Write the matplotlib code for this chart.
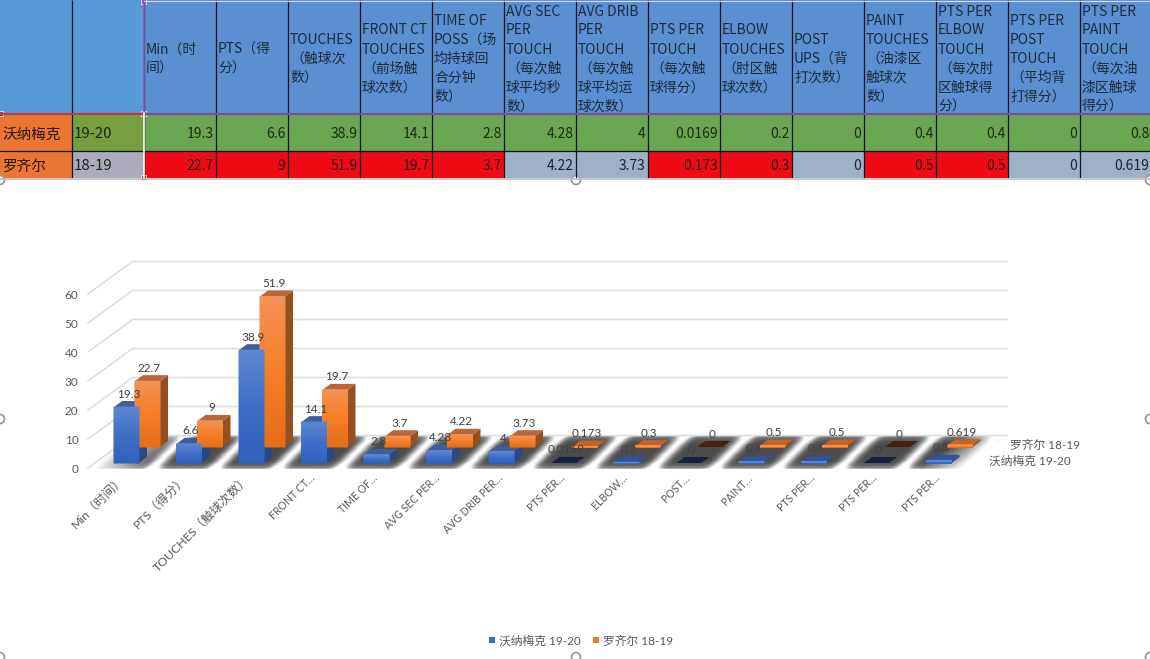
import matplotlib
matplotlib.use("Agg")
import matplotlib.pyplot as plt
import numpy as np
from matplotlib.patches import Polygon, Rectangle, Circle
from matplotlib.colors import LinearSegmentedColormap

plt.rcParams["font.family"] = ["Noto Sans CJK SC", "DejaVu Sans"]
CHART_FONT = ["Lato", "Noto Sans CJK SC", "DejaVu Sans"]

# 表格数据
headers = [
    "Min（时\n间）", "PTS（得\n分）", "TOUCHES\n（触球次\n数）",
    "FRONT CT\nTOUCHES\n（前场触\n球次数）", "TIME OF\nPOSS（场\n均持球回\n合分钟\n数）",
    "AVG SEC\nPER\nTOUCH\n（每次触\n球平均秒\n数）", "AVG DRIB\nPER\nTOUCH\n（每次触\n球平均运\n球次数）",
    "PTS PER\nTOUCH\n（每次触\n球得分）", "ELBOW\nTOUCHES\n（肘区触\n球次数）",
    "POST\nUPS（背\n打次数）", "PAINT\nTOUCHES\n（油漆区\n触球次\n数）",
    "PTS PER\nELBOW\nTOUCH\n（每次肘\n区触球得\n分）", "PTS PER\nPOST\nTOUCH\n（平均背\n打得分）",
    "PTS PER\nPAINT\nTOUCH\n（每次油\n漆区触球\n得分）",
]
players = ["沃纳梅克", "罗齐尔"]
seasons = ["19-20", "18-19"]
wanamaker = [19.3, 6.6, 38.9, 14.1, 2.8, 4.28, 4, 0.0169, 0.2, 0, 0.4, 0.4, 0, 0.8]
rozier = [22.7, 9, 51.9, 19.7, 3.7, 4.22, 3.73, 0.173, 0.3, 0, 0.5, 0.5, 0, 0.619]

# 图表坐标轴标签
categories = [
    "Min（时间）", "PTS（得分）", "TOUCHES（触球次数）", "FRONT CT…", "TIME OF…",
    "AVG SEC PER…", "AVG DRIB PER…", "PTS PER…", "ELBOW…", "POST…",
    "PAINT…", "PTS PER…", "PTS PER…", "PTS PER…",
]
y_ticks = [0, 10, 20, 30, 40, 50, 60]
series_names = ["沃纳梅克 19-20", "罗齐尔 18-19"]

fig = plt.figure(figsize=(11.5, 6.59), dpi=100, facecolor="white")

# 底层：像素坐标，画表格和背景
tab = fig.add_axes([0, 0, 1, 1])
tab.set_xlim(0, 1150)
tab.set_ylim(659, 0)
tab.axis("off")

col_x = [0, 71.5] + [143.5 + 72 * i for i in range(15)]
row_y = [0, 113, 151, 177.5]
BLUE_HEAD = "#5B8FD1"
GREEN = "#6AA551"
RED = "#EE0B15"
GREY = "#9FB0C9"

tab.add_patch(Rectangle((0, 0), 143.5, 113, color="#569AD8", lw=0))
tab.add_patch(Rectangle((143.5, 0), 1010, 113, color=BLUE_HEAD, lw=0))
tab.add_patch(Rectangle((0, 113), 71.5, 64.5, color="#EA7633", lw=0))
tab.add_patch(Rectangle((71.5, 113), 72, 38, color="#76A03F", lw=0))
tab.add_patch(Rectangle((71.5, 151), 72, 26.5, color="#ABABBB", lw=0))

for i, h in enumerate(headers):
    left = col_x[i + 2]
    lines = h.split("\n")
    for j, line in enumerate(lines):
        ty = 59 + (j - (len(lines) - 1) / 2) * 19
        tab.text(left + 2.5, ty, line, fontsize=10, color="#1d2c3c", ha="left", va="center", clip_on=True)
    a, b = wanamaker[i], rozier[i]
    tab.add_patch(Rectangle((left, 113), 72, 38, color=GREEN, lw=0))
    # 罗齐尔更高的项标红，其余灰蓝
    tab.add_patch(Rectangle((left, 151), 72, 26.5, color=RED if b > a else GREY, lw=0))
    tab.text(left + 70, 134.5, f"{a:g}", fontsize=10, color="#1c2a18", ha="right", va="center")
    tab.text(left + 70, 166.5, f"{b:g}", fontsize=10, color="#2a1518" if b > a else "#1c2430", ha="right", va="center")

for r, (name, season) in enumerate(zip(players, seasons)):
    ty = [134.5, 166.5][r]
    tab.text(2.5, ty, name, fontsize=10.5, color="#2a1508", ha="left", va="center")
    tab.text(74, ty, season, fontsize=10.8, color="#1c2418", ha="left", va="center")

for x in col_x[1:-1]:
    tab.plot([x, x], [0, 177.5], color="#0c1420", lw=0.9, solid_capstyle="butt")
for y in row_y[2:3]:
    tab.plot([0, 1150], [y, y], color="#0c1420", lw=0.9)

# 选区边框
tab.plot([143.5, 1150], [113.5, 113.5], color="#7A4FA8", lw=1.6)
tab.plot([143.5, 143.5], [0, 113], color="#8A5FB8", lw=1.2)
tab.plot([143.5, 1150], [1, 1], color="#D8D8E8", lw=0.8)
tab.plot([0, 143.5], [113.5, 113.5], color="#C23A3A", lw=1.6)
tab.plot([143.5, 143.5], [113, 177.5], color="white", lw=1.2)
tab.plot([0, 1150], [178.5, 178.5], color="#BDBDBD", lw=1.2)
for hx, hy in [(0, 113), (143.5, 113), (143.5, 1), (143.5, 177), (0, 178)]:
    tab.add_patch(Rectangle((hx - 2.5, hy - 2.5), 5, 5, fc="#C23A3A" if hx < 144 and hy > 100 else "#8A5FB8", ec="white", lw=0.5))
for hx, hy in [(0, 180), (576, 180), (1150, 180), (0, 419), (1150, 419), (576, 657), (0, 657), (1150, 657)]:
    tab.add_patch(Circle((hx, hy), 4.5, fc="white", ec="#9A9A9A", lw=1.3))

# 三维墙面网格线（像素位置由刻度值算）
PX_PER_UNIT = 2.9
WALL_FRONT_X, WALL_BACK_X, WALL_RIGHT_X = 88, 132.5, 1007
WALL_FRONT_ZERO, WALL_BACK_ZERO = 468, 435.5
for v in y_ticks:
    yf = WALL_FRONT_ZERO - PX_PER_UNIT * v
    yb = WALL_BACK_ZERO - PX_PER_UNIT * v
    tab.plot([WALL_FRONT_X, WALL_BACK_X, WALL_RIGHT_X], [yf, yb, yb], color="#DEDEDE", lw=1.2)
    tab.text(78.5, yf + 1.5, f"{v}", fontsize=8.5, color="#595959", ha="right", va="center", family=CHART_FONT)

# 地板：暗色底加斜向亮纹，网格按透视斜切
uu = np.linspace(0, 877, 900)
tt = np.linspace(0, 1, 30)
gu, gt = np.meshgrid(uu, tt)
floor_x = 88 + gu + 44.5 * gt
floor_y = 468 - 32.5 * gt
d = ((floor_x - 33 * gt - 153 + 31.25) % 62.5 - 31.25) / 62.5
streak = np.exp(-(d / 0.12) ** 2)
edge = np.abs(2 * gt - 1) ** 5
shade = np.clip(0.3 + 0.7 * streak + 0.3 * edge, 0, 1)
fade = np.clip(gu / 60, 0, 1) * np.clip((877 - gu) / 45, 0, 1)
shade = 1 - (1 - shade) * fade
tab.pcolormesh(floor_x, floor_y, shade, cmap="gray", vmin=0, vmax=1, shading="gouraud", zorder=1.5)
tab.set_xlim(0, 1150)
tab.set_ylim(659, 0)

# 上层：柱子用数据坐标，x 为类别序号，y 为数值
ax = fig.add_axes([0, 0, 1, 1])
ax.patch.set_alpha(0)
ax.axis("off")
X0, PX_PER_CAT, Y0 = 126.5, 62.5, 463
ax.set_xlim(-X0 / PX_PER_CAT, (1150 - X0) / PX_PER_CAT)
ax.set_ylim((Y0 - 659) / PX_PER_UNIT, Y0 / PX_PER_UNIT)

BAR_W = 25 / PX_PER_CAT
DEPTH_X, DEPTH_Y = 8 / PX_PER_CAT, 6 / PX_PER_UNIT
SERIES_DX, SERIES_DY = 21 / PX_PER_CAT, 16 / PX_PER_UNIT

blue_front = LinearSegmentedColormap.from_list("b", ["#2F62BE", "#3F6EC6", "#5F86D2"])
orange_front = LinearSegmentedColormap.from_list("o", ["#E56D18", "#F57E26", "#F39259"])


def draw_bar(i, value, dx, dy, cmap, top_c, side_c, thin_c, dark_c):
    x0 = i - BAR_W / 2 + dx
    x1 = x0 + BAR_W
    y0 = dy
    y1 = dy + value
    if value < 0.1:
        top = dark_c
    elif value < 1:
        top = thin_c
    else:
        top = top_c
    ax.add_patch(Polygon([(x1, y0), (x1 + DEPTH_X, y0 + DEPTH_Y), (x1 + DEPTH_X, y1 + DEPTH_Y), (x1, y1)], fc=side_c, ec="none", zorder=3))
    ax.add_patch(Polygon([(x0, y1), (x1, y1), (x1 + DEPTH_X, y1 + DEPTH_Y), (x0 + DEPTH_X, y1 + DEPTH_Y)], fc=top, ec="none", zorder=3))
    if value >= 0.1:
        ax.bar(x0, value, BAR_W, bottom=y0, align="edge", color=cmap(0.5), lw=0, zorder=3.1)
        grad = np.linspace(0, 1, 16).reshape(-1, 1).repeat(2, axis=1)
        gy = np.linspace(y0, y1, 16).reshape(-1, 1).repeat(2, axis=1)
        gx = np.tile([x0, x1], (16, 1))
        ax.pcolormesh(gx, gy, grad, cmap=cmap, vmin=0, vmax=1, shading="gouraud", zorder=3.2)
    ax.text(i + dx + 0.03, y1 + 13 / PX_PER_UNIT, f"{value:g}", fontsize=8.5, color="#404040", ha="center", va="center", zorder=5, family=CHART_FONT)


for i in range(len(categories)):
    draw_bar(i, rozier[i], SERIES_DX, SERIES_DY, orange_front, "#B8673A", "#94501F", "#C5631F", "#44230C")
for i in range(len(categories)):
    draw_bar(i, wanamaker[i], 0, 0, blue_front, "#3F5F9B", "#274A86", "#2F5597", "#14223F")

ax.set_xlim(-X0 / PX_PER_CAT, (1150 - X0) / PX_PER_CAT)
ax.set_ylim((Y0 - 659) / PX_PER_UNIT, Y0 / PX_PER_UNIT)

for i, c in enumerate(categories):
    has_cjk = "（" in c
    ax.text(i - (0.125 if has_cjk else 0.075), -(10 if has_cjk else 9) / PX_PER_UNIT, c, fontsize=8.8 if has_cjk else 7.6,
            color="#595959", rotation=45, ha="right", va="top", rotation_mode="anchor", family=CHART_FONT)

tab.text(1010, 445, series_names[1], fontsize=8.5, color="#595959", va="center", family=CHART_FONT)
tab.text(989, 461, series_names[0], fontsize=8.5, color="#595959", va="center", family=CHART_FONT)

# 图例
tab.add_patch(Rectangle((489, 636.5), 6, 6, color="#3A6BC4", lw=0))
tab.add_patch(Rectangle((593, 636.5), 6, 6, color="#F07A26", lw=0))
tab.text(499, 641, series_names[0], fontsize=8.5, color="#595959", va="center", family=CHART_FONT)
tab.text(603, 641, series_names[1], fontsize=8.5, color="#595959", va="center", family=CHART_FONT)

fig.savefig("out.png", dpi=100)
